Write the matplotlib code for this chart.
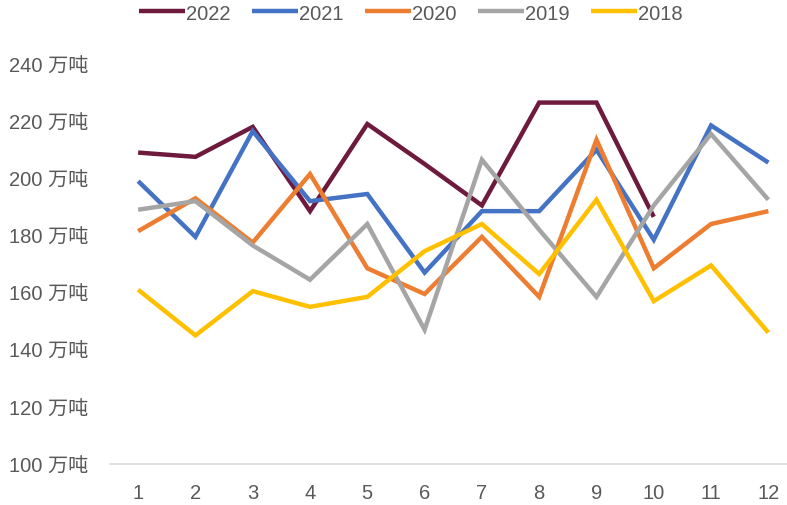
import matplotlib
matplotlib.use("Agg")
import matplotlib.pyplot as plt
from matplotlib import font_manager

months = list(range(1, 13))
s2022 = [209, 207.5, 218, 188.5, 219, 205, 190.5, 226.5, 226.5, 186.5]
s2021 = [199, 179.5, 216.5, 192, 194.5, 167, 188.5, 188.5, 210, 178.5, 218.5, 205.5]
s2020 = [181.5, 193, 177.5, 201.5, 168.5, 159.5, 179.5, 158.5, 213.5, 168.5, 184, 188.5]
s2019 = [189, 192, 176.5, 164.5, 184, 147, 206.5, 182, 158.5, 190.5, 215.5, 192.5]
s2018 = [161, 145, 160.5, 155, 158.5, 174.5, 184, 166.5, 192.5, 157, 169.5, 146]
series_names = ["2022", "2021", "2020", "2019", "2018"]
series_values = [s2022, s2021, s2020, s2019, s2018]
colors = ["#6E1A3D", "#4472C4", "#ED7D31", "#A5A5A5", "#FFC000"]
yticks = [100, 120, 140, 160, 180, 200, 220, 240]
ytick_labels = [f"{v} 万吨" for v in yticks]

def pick(cands):
    for c in cands:
        try:
            font_manager.findfont(c, fallback_to_default=False)
            return c
        except Exception:
            pass
    return "DejaVu Sans"

base = pick(["Liberation Sans Narrow", "DejaVu Sans Condensed", "Liberation Sans"])
plt.rcParams['font.family'] = [base, 'Noto Sans CJK SC', 'DejaVu Sans']

W, H = 787, 506
fig = plt.figure(figsize=(W / 100, H / 100), dpi=100)
left_px, right_px = 109.5, 797
top_px, bot_px = 65, 465
ax = fig.add_axes([left_px / W, 1 - bot_px / H, (right_px - left_px) / W, (bot_px - top_px) / H])

for name, vals, c in zip(series_names, series_values, colors):
    ax.plot(months[:len(vals)], vals, color=c, lw=3.2, label=name,
            solid_joinstyle='miter', solid_capstyle='butt')

ax.set_xlim(0.5, 12.5)
ax.set_ylim(100, 240)
ax.set_xticks(months)
ax.set_xticklabels([str(m) for m in months])
ax.set_yticks(yticks)
ax.set_yticklabels(ytick_labels)
for s in ["top", "right", "left"]:
    ax.spines[s].set_visible(False)
ax.spines["bottom"].set_color("#D9D9D9")
ax.spines["bottom"].set_linewidth(1.2)
ax.tick_params(axis="both", length=0, colors="#595959", labelsize=14.5)
ax.tick_params(axis="y", pad=15.5)
ax.tick_params(axis="x", pad=14)
ax.set_clip_on(False)

fig.legend(loc="center", bbox_to_anchor=(411 / W, 1 - 14 / H), ncol=5, frameon=False,
           fontsize=14.5, handlelength=2.3, handletextpad=0.05, columnspacing=1.05,
           labelcolor="#595959")

fig.savefig("out.png", dpi=100)
